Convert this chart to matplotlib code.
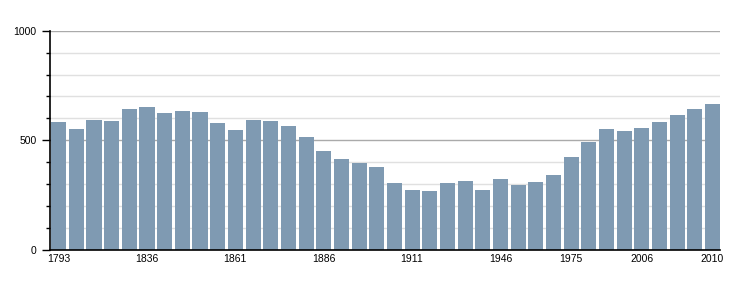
import matplotlib
matplotlib.use("Agg")
import numpy as np
import matplotlib.pyplot as plt
from matplotlib.ticker import MultipleLocator

years = [1793, 1800, 1806, 1821, 1831, 1836, 1841, 1846, 1851, 1856,
         1861, 1866, 1872, 1876, 1881, 1886, 1891, 1896, 1901, 1906,
         1911, 1921, 1926, 1931, 1936, 1946, 1954, 1962, 1968, 1975,
         1982, 1990, 1999, 2006, 2007, 2008, 2009, 2010]
population = [582, 550, 591, 586, 641, 650, 623, 636, 627, 577,
              545, 595, 586, 564, 514, 450, 414, 395, 377, 305,
              273, 268, 305, 314, 273, 323, 295, 309, 341, 423,
              491, 550, 541, 555, 582, 614, 645, 664]
labelled_years = [1793, 1836, 1861, 1886, 1911, 1946, 1975, 2006, 2010]

plt.rcParams['font.family'] = ['Liberation Sans', 'DejaVu Sans']

fig = plt.figure(figsize=(7.5, 3), dpi=100)
ax = fig.add_axes([50 / 750, 1 - 250 / 300, (720 - 50) / 750, (250 - 30.7) / 300])

x = np.arange(len(years))
ax.bar(x, population, width=0.85, color='#7f9ab2', zorder=3)

ax.set_ylim(0, 1000)
ax.set_xlim(-0.49, len(years) - 1 + 0.43)

# grid: light every 100, darker at 500s
ax.yaxis.set_major_locator(MultipleLocator(500))
ax.yaxis.set_minor_locator(MultipleLocator(100))
ax.grid(which='minor', axis='y', color='#e0e0e0', linewidth=1, zorder=0)
ax.grid(which='major', axis='y', color='#aaaaaa', linewidth=1, zorder=1)

ticks = [years.index(y) for y in labelled_years]
ax.set_xticks(ticks)
ax.set_xticklabels([str(y) for y in labelled_years])
ax.tick_params(axis='x', length=0, pad=3, labelsize=7.5)
ax.tick_params(axis='y', which='major', length=6, width=1, labelsize=7.5, pad=3.5)
ax.tick_params(axis='y', which='minor', length=3, width=1)

for s in ['top', 'right']:
    ax.spines[s].set_visible(False)
ax.spines['left'].set_linewidth(1.2)
ax.spines['bottom'].set_linewidth(1.2)
ax.spines['left'].set_zorder(4)
ax.spines['bottom'].set_zorder(4)

fig.savefig('out.png', dpi=100)
